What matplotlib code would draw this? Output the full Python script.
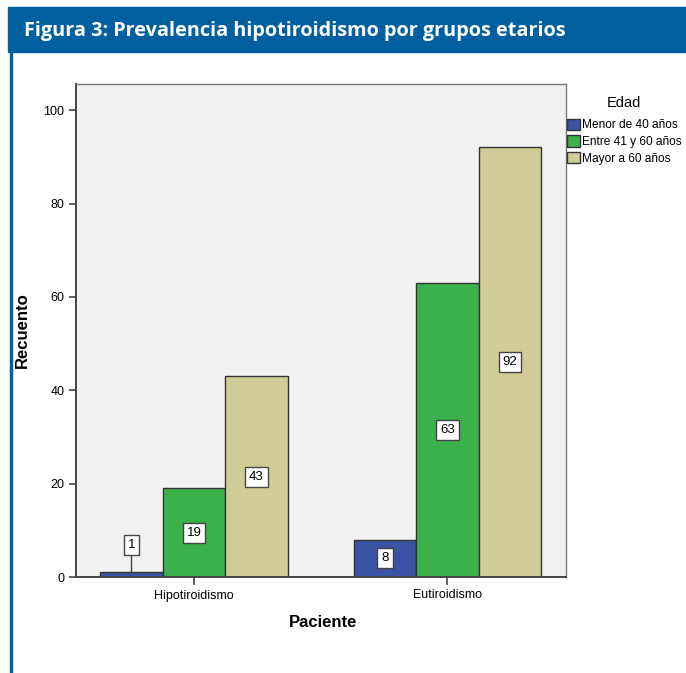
import matplotlib
matplotlib.use("Agg")
import numpy as np
from matplotlib import pyplot as plt
from matplotlib.patches import Rectangle

pacientes = ["Hipotiroidismo", "Eutiroidismo"]
grupos = ["Menor de 40 años", "Entre 41 y 60 años", "Mayor a 60 años"]
menor_40 = [1, 8]
entre_41_60 = [19, 63]
mayor_60 = [43, 92]
colores = ["#3a53a4", "#3bb14b", "#d0cc97"]

titulo = "Figura 3: Prevalencia hipotiroidismo por grupos etarios"

plt.rcParams['font.family'] = ['Liberation Sans', 'DejaVu Sans']

fig = plt.figure(figsize=(6.86, 6.73), dpi=100)

# cabecera azul y borde izquierdo
fig.patches.append(Rectangle((8 / 686, 1 - 52 / 673), 1, 45 / 673,
                             transform=fig.transFigure, color="#005f9e", zorder=0))
fig.patches.append(Rectangle((10 / 686, 0), 2.5 / 686, 1 - 52 / 673,
                             transform=fig.transFigure, color="#005f9e", zorder=0))
fig.text(24 / 686, 1 - 31 / 673, titulo, color="white", fontsize=14.3,
         fontweight="bold", family=["Open Sans", "DejaVu Sans"], va="center", ha="left")

ax = fig.add_axes([76 / 686, 96 / 673, 490 / 686, 493 / 673])
ax.set_facecolor("#f0f1f0")

x = np.arange(len(pacientes))
ancho = 0.2465
series = [menor_40, entre_41_60, mayor_60]
for i, (vals, nombre, color) in enumerate(zip(series, grupos, colores)):
    pos = x + (i - 1) * ancho
    ax.bar(pos, vals, width=ancho, color=color, edgecolor="#333333",
           linewidth=1.0, label=nombre, zorder=2)
    for xp, v in zip(pos, vals):
        caja = dict(boxstyle="square,pad=0.3", facecolor="white",
                    edgecolor="#444444", linewidth=1.0)
        if v < 5:
            ax.annotate(str(v), xy=(xp, v), xytext=(0, 19.5), textcoords="offset points",
                        ha="center", va="center", fontsize=9.5, bbox=caja,
                        arrowprops=dict(arrowstyle="-", color="#444444", lw=1.0,
                                        shrinkA=0, shrinkB=0), zorder=3)
        else:
            ax.text(xp, v / 2, str(v), ha="center", va="center", fontsize=9.5,
                    bbox=caja, zorder=3)

ax.set_xlim(-0.4655, 1.4675)
ax.set_ylim(0, 105.6)
ax.set_yticks([0, 20, 40, 60, 80, 100])
ax.set_xticks(x)
ax.set_xticklabels(pacientes)
ax.tick_params(axis="both", labelsize=9, color="#444444", length=5, width=1.2)
ax.tick_params(axis="x", length=6, pad=3)

for lado in ["top", "right"]:
    ax.spines[lado].set_color("#777777")
    ax.spines[lado].set_linewidth(1.0)
for lado in ["bottom", "left"]:
    ax.spines[lado].set_color("#444444")
    ax.spines[lado].set_linewidth(1.4)

ax.set_ylabel("Recuento", fontsize=12, fontweight="bold")
ax.yaxis.set_label_coords(-0.095, 0.5)
ax.set_xlabel("Paciente", fontsize=12, fontweight="bold")
ax.xaxis.set_label_coords(0.504, -0.078)

leg = ax.legend(loc="upper left", bbox_to_anchor=(1.002, 0.975), frameon=False,
                title="Edad", fontsize=8.6, title_fontsize=10.5,
                handlelength=1.05, handleheight=1.05, handletextpad=0.22,
                labelspacing=0.35, borderaxespad=0, borderpad=0)
leg._legend_box.sep = 6
for h in leg.legend_handles:
    h.set_edgecolor("#333333")

fig.savefig("out.png", dpi=100, facecolor="white")
